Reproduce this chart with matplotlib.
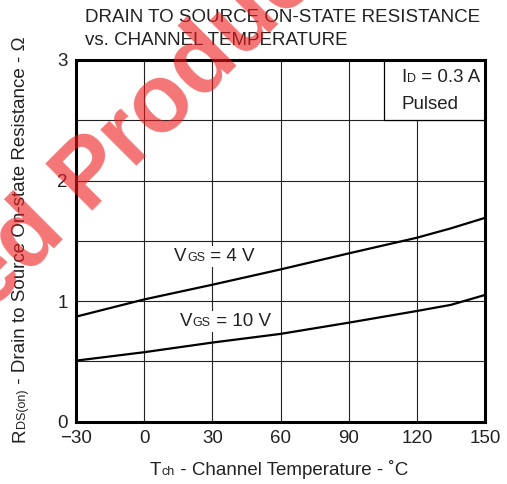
import numpy as np
import matplotlib
matplotlib.use("Agg")
import matplotlib.pyplot as plt
from matplotlib.patches import Rectangle
from matplotlib.font_manager import FontProperties
from matplotlib.transforms import offset_copy

FAMILY = ['Liberation Sans', 'DejaVu Sans']
plt.rcParams['font.family'] = FAMILY

# DATA
temp_4v = [-30, 0, 30, 60, 90, 120, 135, 150]
rds_4v = [0.87, 1.013, 1.135, 1.262, 1.395, 1.525, 1.603, 1.69]
temp_10v = [-30, 0, 30, 60, 90, 120, 135, 150]
rds_10v = [0.505, 0.575, 0.655, 0.727, 0.82, 0.917, 0.968, 1.05]
x_ticks = [-30, 0, 30, 60, 90, 120, 150]
y_ticks = [0, 1, 2, 3]

W, H = 507, 484
FS = 13.5
SUB = 9
INK = '#222222'

fig = plt.figure(figsize=(W / 100, H / 100), dpi=100)
ax = fig.add_axes([76 / W, 1 - 421.5 / H, 409 / W, 361.5 / H])
renderer = fig.canvas.get_renderer()


def rich(target, x, y, parts, trans, rotation=0, bg=False, zorder=5):
    # lay text pieces on one baseline, small ones act as subscripts
    pos = 0
    for s, size in parts:
        if rotation:
            tr = offset_copy(trans, fig=fig, x=0, y=pos, units='dots')
        else:
            tr = offset_copy(trans, fig=fig, x=pos, y=0, units='dots')
        kw = dict(transform=tr, fontsize=size, ha='left', va='baseline',
                  rotation=rotation, rotation_mode='anchor')
        if bg:
            # white patch drawn underneath all pieces
            target.text(x, y, s, color='white', zorder=zorder - 0.5,
                        bbox=dict(fc='white', ec='none', pad=1.5), **kw)
        target.text(x, y, s, color=INK, zorder=zorder, **kw)
        w, h, d = renderer.get_text_width_height_descent(
            s, FontProperties(family=FAMILY, size=size), ismath=False)
        pos += w


# curves
ax.plot(temp_4v, rds_4v, color='black', lw=1.6, zorder=4)
ax.plot(temp_10v, rds_10v, color='black', lw=1.6, zorder=4)

ax.set_xlim(-30, 150)
ax.set_ylim(0, 3)
ax.set_xticks(x_ticks)
ax.set_yticks(y_ticks)
ax.set_xticks(np.arange(-30, 151, 30), minor=True)
ax.set_yticks(np.arange(0, 3.01, 0.5), minor=True)
ax.grid(True, which='both', color='#222222', lw=0.8)
ax.set_axisbelow(True)
ax.tick_params(which='both', length=0, labelsize=FS, colors=INK)
ax.tick_params(axis='x', pad=6)
ax.tick_params(axis='y', pad=6)
for sp in ax.spines.values():
    sp.set_linewidth(2.2)
    sp.set_color('black')

# ID box in the top right corner
ax.add_patch(Rectangle((105.5, 2.5), 44.5, 0.5, fc='white', ec='black', lw=0.9, zorder=2.5))
rich(ax, 113.3, 2.818, [('I', FS), ('D', SUB), (' = 0.3 A', FS)], ax.transData)
ax.text(113.3, 2.592, 'Pulsed', fontsize=FS, color=INK, va='baseline', zorder=5)

# curve labels with white background
rich(ax, 13.3, 1.33, [('V', FS), ('GS', SUB), (' = 4 V', FS)], ax.transData, bg=True)
rich(ax, 15.8, 0.795, [('V', FS), ('GS', SUB), (' = 10 V', FS)], ax.transData, bg=True)

# title
fig.text(85 / W, 1 - 21.7 / H, 'DRAIN TO SOURCE ON-STATE RESISTANCE', fontsize=FS,
         color=INK, va='baseline')
fig.text(85 / W, 1 - 45 / H, 'vs. CHANNEL TEMPERATURE', fontsize=FS,
         color=INK, va='baseline')

# axis labels
rich(fig, 150 / W, 1 - 475 / H,
     [('T', FS), ('ch', SUB), (' - Channel Temperature - \u02daC', FS)], fig.transFigure)
rich(fig, 25 / W, 1 - 442 / H,
     [('R', FS), ('DS(on)', SUB), (' - Drain to Source On-state Resistance - \u03a9', FS)],
     fig.transFigure, rotation=90)

# red watermark across the upper left
ang = 45
em = 96
px, py = 86, 210
gap = 0.28 * em
wm = dict(fontsize=em * 0.72, fontweight='bold', color=(0.93, 0.1, 0.1), alpha=0.6,
          rotation=ang, rotation_mode='anchor', va='baseline', zorder=10)
fig.text(px / W, 1 - py / H, 'Products', ha='left', **wm)
bx = px - gap * np.cos(np.radians(ang))
by = py + gap * np.sin(np.radians(ang))
fig.text(bx / W, 1 - by / H, 'Discontinued', ha='right', **wm)

fig.savefig('out.png', dpi=100)
